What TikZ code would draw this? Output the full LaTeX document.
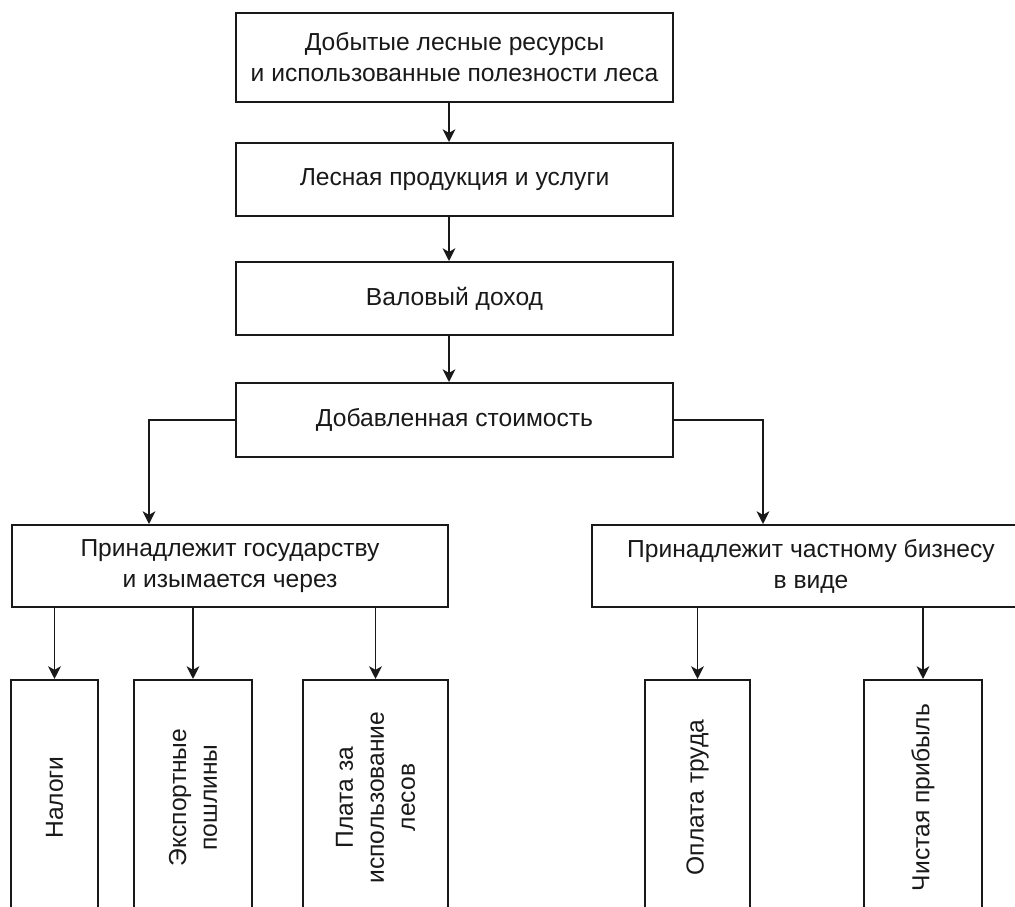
\documentclass[tikz,border=0pt]{standalone}
\usepackage{fontspec}
\setmainfont{Liberation Sans}
\usetikzlibrary{positioning}
\usetikzlibrary{arrows.meta}
\tikzset{
    box/.style = {rectangle, draw=black!90, line width=1.4pt, align=center, text=black!90, minimum width=10.925cm, font=\fontsize{17.5}{22}\selectfont},
    vbox/.style = {rectangle, draw=black!90, line width=1.4pt, align=center, text=black!90, rotate=90, minimum width=5.875cm, font=\fontsize{17.5}{22}\selectfont},
    edgen/.style = {-{Stealth[length=9pt,width=9pt,inset=2.5pt]}, line width=1.4pt, black!90}
}

\begin{document}
\begin{tikzpicture}[x=0.025cm,y=-0.025cm]
\useasboundingbox (0,0) rectangle (1015,907);
\clip (0,0) rectangle (1015,907);
%
\node[box, minimum height=2.225cm] at (454.5,57.5) (src) {Добытые лесные ресурсы\\и использованные полезности леса};
\node[box, minimum height=1.825cm] at (454.5,179.5) (prod) {Лесная продукция и услуги};
\node[box, minimum height=1.825cm] at (454.5,298.5) (gross) {Валовый доход};
\node[box, minimum height=1.85cm] at (454.5,420) (added) {Добавленная стоимость};
\node[box, minimum width=10.9cm, minimum height=2.05cm] at (230,566) (state) {Принадлежит государству\\и изымается через};
\node[box, minimum width=10.95cm, minimum height=2.05cm] at (811,566) (private) {Принадлежит частному бизнесу\\в виде};
%
\node[vbox, minimum height=2.175cm] at (54.5,797.5) (taxes) {Налоги};
\node[vbox, minimum height=2.95cm] at (193,797.5) (duties) {Экспортные\\пошлины};
\node[vbox, minimum height=3.625cm] at (375.5,797.5) (fee) {Плата за\\использование\\лесов};
\node[vbox, minimum height=2.625cm] at (697.5,797.5) (wages) {Оплата труда};
\node[vbox, minimum height=2.95cm] at (923,797.5) (profit) {Чистая прибыль};
%
\coordinate (spine) at (449,0);
\coordinate (lbranch) at (149,0);
\coordinate (rbranch) at (763,0);
%
\draw[edgen] (src.south -| spine) -- (prod.north -| spine);
\draw[edgen] (prod.south -| spine) -- (gross.north -| spine);
\draw[edgen] (gross.south -| spine) -- (added.north -| spine);
\draw[edgen] (added.west) -| (state.north -| lbranch);
\draw[edgen] (added.east) -| (private.north -| rbranch);
\draw[edgen] (state.south -| taxes) -- (taxes.east);
\draw[edgen] (state.south -| duties) -- (duties.east);
\draw[edgen] (state.south -| fee) -- (fee.east);
\draw[edgen] (private.south -| wages) -- (wages.east);
\draw[edgen] (private.south -| profit) -- (profit.east);
\end{tikzpicture}
\end{document}
